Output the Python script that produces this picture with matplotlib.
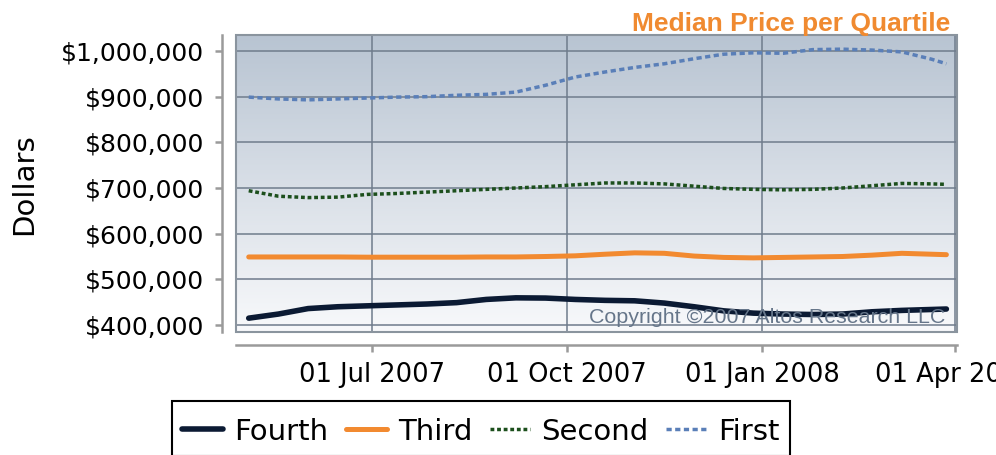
import numpy as np
import pandas as pd
import matplotlib
matplotlib.use('Agg')
import matplotlib.pyplot as plt
import matplotlib.dates as mdates
from matplotlib.colors import LinearSegmentedColormap
from matplotlib.patches import Rectangle
from matplotlib.ticker import FuncFormatter

# sample dates (two-week steps) and median prices in thousands of dollars
dates = ['2007-05-04', '2007-05-18', '2007-06-01', '2007-06-15', '2007-06-29',
         '2007-07-13', '2007-07-27', '2007-08-10', '2007-08-24', '2007-09-07',
         '2007-09-21', '2007-10-05', '2007-10-19', '2007-11-02', '2007-11-16',
         '2007-11-30', '2007-12-14', '2007-12-28', '2008-01-11', '2008-01-25',
         '2008-02-08', '2008-02-22', '2008-03-07', '2008-03-21', '2008-03-28']

fourth = [415, 424, 436, 440, 442, 444, 446, 449, 456, 459.5, 459, 456, 454,
          453, 448, 440, 431, 426, 424, 423, 424, 429, 432, 434, 435]
third = [549, 549, 549, 549, 548.5, 548.5, 548.5, 548.5, 549, 549, 550, 551.5,
         555, 558, 557, 551, 548, 547, 548, 549, 550, 553, 557, 555, 554]
second = [694, 682, 679, 680, 686, 688, 691, 694, 697, 700, 703, 707, 711,
          711, 709, 704, 699, 697, 696, 697, 700, 705, 710, 709, 708]
first = [899, 895, 893, 895, 897, 899, 900, 903, 905, 910, 925, 943, 954,
         964, 972, 983, 993, 996, 995, 1003, 1004, 1002, 998, 982, 972]

series_names = ['Fourth', 'Third', 'Second', 'First']
tick_dates = ['2007-07-01', '2007-10-01', '2008-01-01', '2008-04-01']
y_ticks = [400, 500, 600, 700, 800, 900, 1000]

x = pd.to_datetime(dates)

fig = plt.figure(figsize=(9.96, 4.55), dpi=100)
ax = fig.add_axes([236 / 996, 1 - 332 / 455, (957 - 236) / 996, (332 - 35) / 455])

# background gradient of the plot area
cmap = LinearSegmentedColormap.from_list('bg', ['#f8f9fb', '#b8c4d2'])
grad = np.linspace(0, 1, 256).reshape(-1, 1)
ax.imshow(grad, cmap=cmap, aspect='auto', extent=[0, 1, 0, 1], origin='lower',
          transform=ax.transAxes, zorder=-1)

h4, = ax.plot(x, fourth, color='#0b1a33', lw=4, solid_capstyle='round', zorder=4)
h3, = ax.plot(x, third, color='#f28a30', lw=3.6, solid_capstyle='round', zorder=3)
h2, = ax.plot(x, second, color='#1c4f1c', lw=2.5, dashes=(1.1, 0.8), zorder=3)
h1, = ax.plot(x, first, color='#5a7fb8', lw=2.5, dashes=(1.5, 1.0), zorder=3)

ax.set_xlim(pd.Timestamp('2007-04-28'), pd.Timestamp('2008-04-02'))
ax.set_ylim(384.7, 1035)

ax.set_xticks(pd.to_datetime(tick_dates))
ax.xaxis.set_major_formatter(mdates.DateFormatter('%d %b %Y'))
ax.set_yticks(y_ticks)
ax.yaxis.set_major_formatter(FuncFormatter(lambda v, p: '${:,.0f}'.format(v * 1000)))

ax.grid(True, color='#6f7c8c', lw=1.1, zorder=1)
ax.set_axisbelow(True)

ax.add_patch(Rectangle((0, 0), 1, 1, transform=ax.transAxes, fill=False,
                       edgecolor='#8a949e', lw=1.5, zorder=2, clip_on=False))

for side in ['top', 'right']:
    ax.spines[side].set_visible(False)
ax.spines['left'].set_position(('outward', 10))
ax.spines['bottom'].set_position(('outward', 9.4))
for side in ['left', 'bottom']:
    ax.spines[side].set_color('#9a9a9a')
    ax.spines[side].set_linewidth(1.8)

ax.tick_params(axis='both', colors='#9a9a9a', length=5, width=1.8,
               labelcolor='black', labelsize=18)
ax.tick_params(axis='y', pad=8)
ax.tick_params(axis='x', labelsize=18.5, pad=7)

fig.text(24 / 996, 1 - 184 / 455, 'Dollars', rotation=90, fontsize=21,
         ha='center', va='center')

fig.text(950 / 996, 1 - 31 / 455, 'Median Price per Quartile', color='#f08a30',
         fontsize=19, fontweight='bold', family='Liberation Sans',
         ha='right', va='baseline')

ax.text(0.9834, 0.016, 'Copyright \u00a92007 Altos Research LLC',
        transform=ax.transAxes, color='#66768a', fontsize=15.4,
        family='Liberation Sans', ha='right', va='bottom', zorder=5)

# a tiny blank title pushes the entries down inside the frame, as in the original
leg = fig.legend([h4, h3, h2, h1], series_names, loc='upper left',
                 bbox_to_anchor=(172 / 996, 1 - 401 / 455), ncol=4,
                 frameon=True, fancybox=False, edgecolor='black', framealpha=1,
                 fontsize=21, handlelength=1.4, handletextpad=0.38,
                 columnspacing=0.6, borderpad=0.35, borderaxespad=0,
                 title=' ', title_fontsize=4, labelspacing=0.05)
leg.get_frame().set_linewidth(1.5)

fig.savefig('out.png', dpi=100)
